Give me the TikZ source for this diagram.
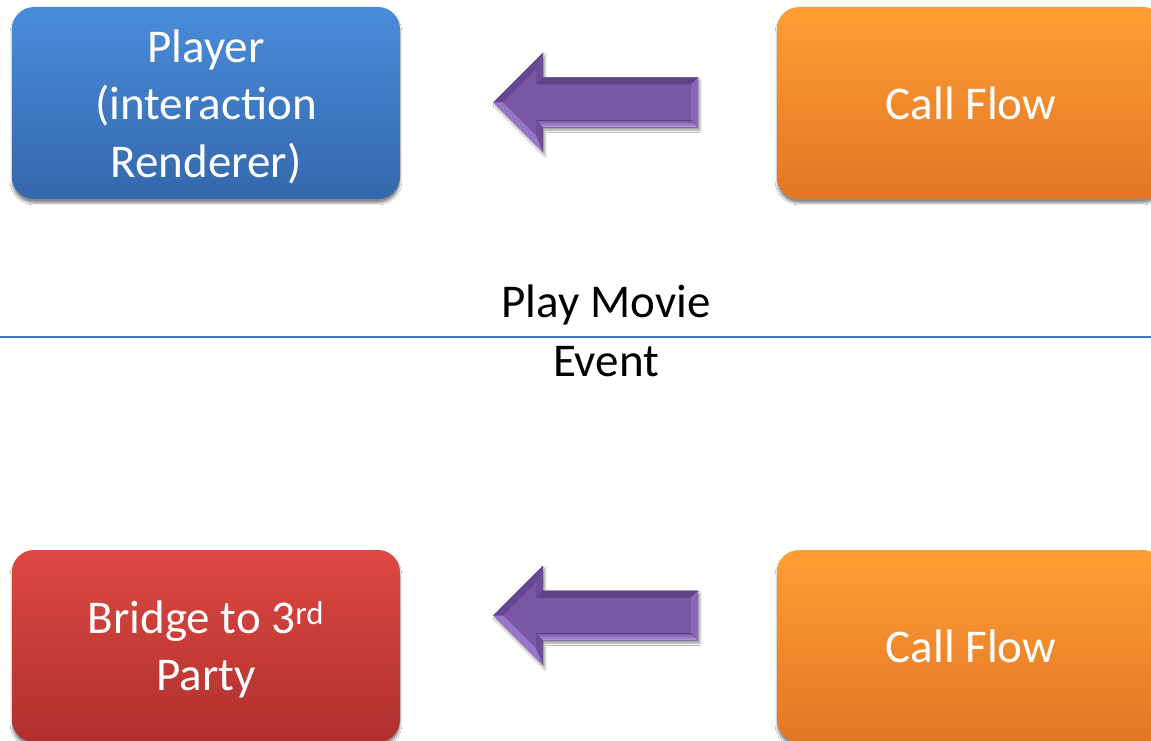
\documentclass[tikz,border=0pt]{standalone}
\usepackage{fontspec}
\setmainfont{Carlito}
\usetikzlibrary{shadows.blur}
\definecolor{blueT}{RGB}{74,140,219}
\definecolor{blueB}{RGB}{52,104,172}
\definecolor{orangeT}{RGB}{255,158,52}
\definecolor{orangeB}{RGB}{226,118,36}
\definecolor{redT}{RGB}{222,72,66}
\definecolor{redB}{RGB}{176,48,46}
\definecolor{arrMain}{RGB}{122,88,165}
\definecolor{arrUL}{RGB}{100,70,145}
\definecolor{arrLL}{RGB}{152,118,200}
\definecolor{arrTop}{RGB}{96,66,136}
\definecolor{arrBot}{RGB}{192,158,232}
\definecolor{arrRight}{RGB}{138,102,182}
\definecolor{arrBack}{RGB}{108,78,150}
\definecolor{lineBlue}{RGB}{70,120,185}
\newcommand{\toppad}{\rule{0pt}{40pt}}
\tikzset{
  box/.style={rounded corners=22pt, minimum width=388pt, minimum height=192pt,
    inner sep=0pt, text=white, align=center,
    font=\fontsize{47}{57.3}\selectfont,
    blur shadow={shadow xshift=0pt, shadow yshift=-4pt, shadow blur steps=6, shadow opacity=45}},
  bluebox/.style={box, top color=blueT, bottom color=blueB},
  orangebox/.style={box, top color=orangeT, bottom color=orangeB},
  redbox/.style={box, top color=redT, bottom color=redB},
  caption/.style={text=black, font=\fontsize{47}{59}\selectfont, inner sep=0pt},
  larrow/.pic={
    \fill[arrMain, blur shadow={shadow xshift=2pt, shadow yshift=-3pt, shadow blur steps=5, shadow opacity=35}]
      (0,0) -- (50,-50) -- (50,-25) -- (205,-25) -- (205,25) -- (50,25) -- (50,50) -- cycle;
    \fill[arrUL] (0,0) -- (50,-50) -- (43,-33.1) -- (9.9,0) -- cycle;
    \fill[arrBack] (50,-50) -- (50,-25) -- (43,-18) -- (43,-33.1) -- cycle;
    \fill[arrTop] (50,-25) -- (205,-25) -- (198,-18) -- (43,-18) -- cycle;
    \fill[arrRight] (205,-25) -- (205,25) -- (198,18) -- (198,-18) -- cycle;
    \fill[top color=arrMain, bottom color=arrBot] (205,25) -- (50,25) -- (43,18) -- (198,18) -- cycle;
    \fill[arrBack] (50,25) -- (50,50) -- (43,33.1) -- (43,18) -- cycle;
    \fill[arrLL] (50,50) -- (0,0) -- (9.9,0) -- (43,33.1) -- cycle;
  }
}
\begin{document}
\begin{tikzpicture}[x=1pt,y=-1pt]
\useasboundingbox[fill=white] (0,0) rectangle (1151,741);
\clip (0,0) rectangle (1151,741);
% top row
\node[bluebox] (player) at (206,103) {\toppad Player\\(interaction\\Renderer)};
\node[orangebox] (flow1) at (971,103) {Call Flow};
\pic at (493,102.5) {larrow};
% separator
\coordinate (sepL) at (0,337);
\coordinate (sepR) at (1151,337);
\draw[draw=lineBlue, line width=2pt] (sepL) -- (sepR);
\node[caption, anchor=base] (play) at (606,317) {Play Movie};
\node[caption, anchor=base] (event) at (606,376) {Event};
% bottom row
\node[redbox] (bridge) at (206,646) {\toppad Bridge to 3\textsuperscript{rd}\\Party};
\node[orangebox] (flow2) at (971,646) {Call Flow};
\pic at (493,615.5) {larrow};
\end{tikzpicture}
\end{document}
